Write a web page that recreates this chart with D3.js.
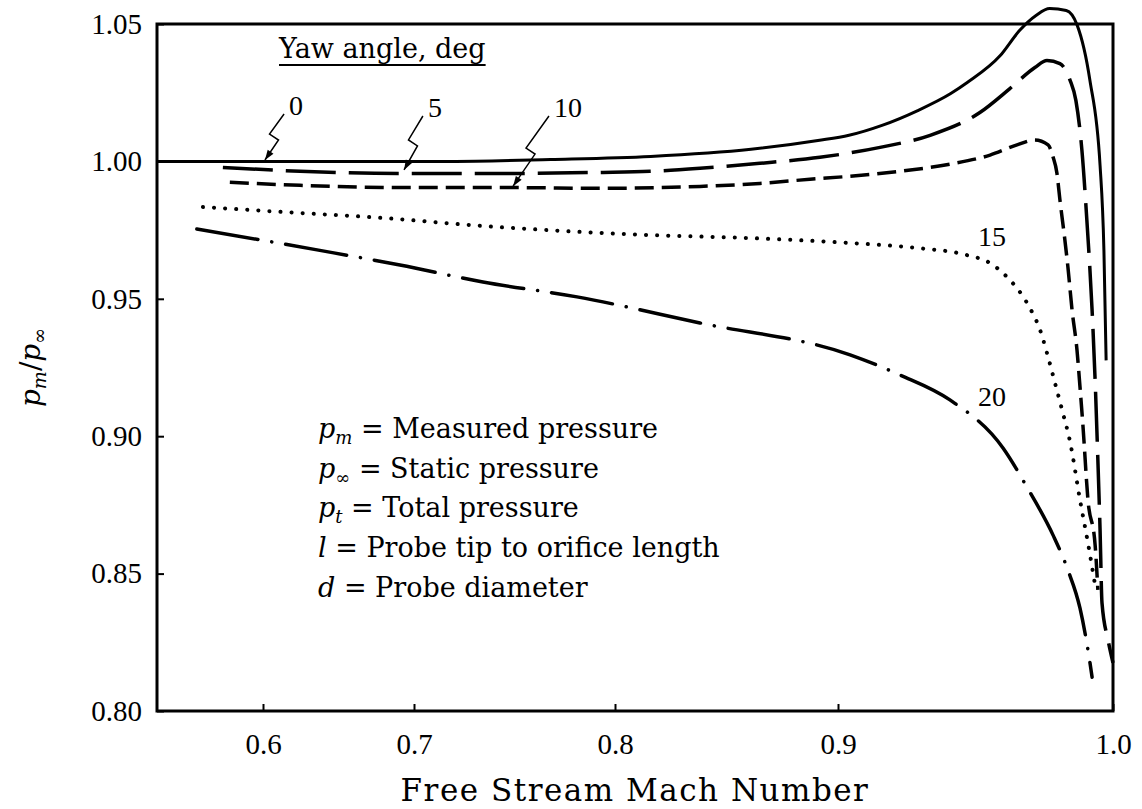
<!DOCTYPE html>
<html>
<head>
<meta charset="utf-8">
<script src="https://cdn.jsdelivr.net/npm/d3@7"></script>
<style>
body { margin: 0; background: #fff; }
text { fill: #000; }
.num { font-family: "Liberation Serif", serif; }
.words { font-family: "DejaVu Serif", serif; }
</style>
</head>
<body>
<div id="chart"></div>
<script>
// yaw angle curves, [Mach, pm/pinf]
var yaw0 = [[0.530, 1.0000], [0.6245, 1.0000], [0.718, 1.0000], [0.768, 1.0007], [0.816, 1.0018],
    [0.861, 1.0044], [0.891, 1.0076], [0.904, 1.0095], [0.916, 1.0131], [0.929, 1.0185],
    [0.941, 1.0247], [0.947, 1.0287], [0.959, 1.0385], [0.966, 1.0476], [0.972, 1.0531],
    [0.977, 1.0556], [0.983, 1.0549], [0.987, 1.0495], [0.9916, 1.0295], [0.9953, 0.9985],
    [0.9967, 0.9676], [0.9975, 0.9276]];
var yaw5 = [[0.5735, 0.9978], [0.6245, 0.9964], [0.6907, 0.9956], [0.7428, 0.9956], [0.7925, 0.9960],
    [0.8157, 0.9964], [0.8381, 0.9975], [0.865, 0.9993], [0.8919, 1.0015], [0.9153, 1.0051],
    [0.9335, 1.0095], [0.9516, 1.0178], [0.9625, 1.0265], [0.9716, 1.0342], [0.976, 1.0367],
    [0.9807, 1.0356], [0.9844, 1.0295], [0.9865, 1.0222], [0.9887, 1.0040], [0.9905, 0.9785],
    [0.9924, 0.9458], [0.9935, 0.9204], [0.9945, 0.8913], [0.9953, 0.8658], [0.996, 0.8393],
    [0.9982, 0.8258], [1.0, 0.8175]];
var yaw10 = [[0.5781, 0.9924], [0.6245, 0.9913], [0.6907, 0.9905], [0.7428, 0.9905], [0.7925, 0.9902],
    [0.8381, 0.9909], [0.865, 0.9920], [0.8874, 0.9935], [0.9044, 0.9946], [0.9225, 0.9964],
    [0.9407, 0.9990], [0.9553, 1.0023], [0.9651, 1.0060], [0.9716, 1.0078], [0.9764, 1.0060],
    [0.9782, 1.0016], [0.9796, 0.9958], [0.9807, 0.9860], [0.9825, 0.9714], [0.9836, 0.9616],
    [0.9851, 0.9460], [0.9869, 0.9314], [0.988, 0.9179], [0.9891, 0.9034], [0.9909, 0.8768],
    [0.9935, 0.8604], [0.9945, 0.8441]];
var yaw15 = [[0.5603, 0.9834], [0.6132, 0.9816], [0.6795, 0.9794], [0.7343, 0.9765], [0.7841, 0.9743],
    [0.8157, 0.9732], [0.8605, 0.9721], [0.9044, 0.9703], [0.9287, 0.9685], [0.9469, 0.9659],
    [0.9553, 0.9630], [0.9615, 0.9579], [0.9669, 0.9514], [0.9698, 0.9466], [0.9735, 0.9386],
    [0.9764, 0.9288], [0.9789, 0.9194], [0.9815, 0.9095], [0.9844, 0.8979], [0.988, 0.8768],
    [0.9909, 0.8611], [0.9935, 0.8458]];
var yaw20 = [[0.5563, 0.9754], [0.6358, 0.9678], [0.6907, 0.9623], [0.7343, 0.9561], [0.7811, 0.9507],
    [0.8381, 0.9412], [0.9044, 0.9296], [0.9225, 0.9223], [0.9407, 0.9132], [0.96, 0.8957],
    [0.9687, 0.8815], [0.9782, 0.8640], [0.9836, 0.8513], [0.988, 0.8374], [0.9909, 0.8222],
    [0.9924, 0.8123]];

var xTicks = [0.6, 0.7, 0.8, 0.9, 1.0];
var yTicks = [0.80, 0.85, 0.90, 0.95, 1.00, 1.05];

// curve labels: "0","5","10" with leaders, "15","20" plain
var leaderNames = ["0", "5", "10"];
var leaderText = [[0.6219, 1.0205], [0.7104, 1.0198], [0.7766, 1.0198]];
var leaderTip = [[0.6013, 1.0005], [0.6934, 0.9969], [0.7493, 0.9910]];
var plainNames = ["15", "20"];
var plainText = [[0.956, 0.9727], [0.956, 0.9146]];

var legendVars = [["p", "m"], ["p", "\u221E"], ["p", "t"], ["l", ""], ["d", ""]];
var legendDesc = ["Measured pressure", "Static pressure", "Total pressure",
    "Probe tip to orifice length", "Probe diameter"];

var width = 1142,
    height = 809;

var svg = d3.select("#chart").append("svg")
    .attr("width", width)
    .attr("height", height);

// x axis is stretched towards M = 1
var x = d3.scaleLinear()
    .domain([0.53, 0.6, 0.7, 0.8, 0.9, 1.0])
    .range([157, 263, 414, 615, 838, 1113]);
var y = d3.scaleLinear()
    .domain([0.80, 1.05])
    .range([711, 24]);

var xAxis = svg.append("g")
    .attr("transform", "translate(0," + y(0.80) + ")")
    .call(d3.axisBottom(x).tickValues(xTicks).tickSizeInner(-7).tickSizeOuter(0)
        .tickPadding(22).tickFormat(d3.format(".1f")));
var yAxis = svg.append("g")
    .attr("transform", "translate(" + x(0.53) + ",0)")
    .call(d3.axisLeft(y).tickValues(yTicks).tickSizeInner(-7).tickSizeOuter(0)
        .tickPadding(15).tickFormat(d3.format(".2f")));
[xAxis, yAxis].forEach(function (g) {
    g.attr("font-family", null).attr("font-size", null);
    g.select(".domain").remove();
    g.selectAll(".tick line").attr("stroke", "#000").attr("stroke-width", 2);
    g.selectAll(".tick text").attr("class", "num").attr("font-size", "29px");
});

svg.append("rect")
    .attr("x", x(0.53))
    .attr("y", y(1.05))
    .attr("width", x(1.0) - x(0.53))
    .attr("height", y(0.80) - y(1.05))
    .attr("fill", "none")
    .attr("stroke", "#000")
    .attr("stroke-width", 3);

var line = d3.line()
    .x(function (d) { return x(d[0]); })
    .y(function (d) { return y(d[1]); })
    .curve(d3.curveMonotoneX);

var series = [
    {data: yaw0, dash: null, cap: "butt", w: 3},
    {data: yaw5, dash: "50,13", cap: "butt", w: 3.5},
    {data: yaw10, dash: "19,8", cap: "butt", w: 3.5},
    {data: yaw15, dash: "0.1,11", cap: "round", w: 4},
    {data: yaw20, dash: "62,14,0.1,14", cap: "round", w: 3.5}
];
svg.selectAll("path.curve")
    .data(series)
    .enter().append("path")
    .attr("class", "curve")
    .attr("d", function (d) { return line(d.data); })
    .attr("fill", "none")
    .attr("stroke", "#000")
    .attr("stroke-width", function (d) { return d.w; })
    .attr("stroke-linecap", function (d) { return d.cap; })
    .attr("stroke-dasharray", function (d) { return d.dash; });

// header
var head = svg.append("text")
    .attr("class", "words")
    .attr("x", 279)
    .attr("y", 58)
    .attr("font-size", "27px")
    .text("Yaw angle, deg");
var hw = head.node().getComputedTextLength();
svg.append("line")
    .attr("x1", 279).attr("x2", 279 + hw)
    .attr("y1", 65).attr("y2", 65)
    .attr("stroke", "#000").attr("stroke-width", 2);

// labels with squiggly leaders
leaderNames.forEach(function (name, i) {
    var lx = x(leaderText[i][0]), ly = y(leaderText[i][1]);
    var t = svg.append("text")
        .attr("class", "num")
        .attr("x", lx).attr("y", ly)
        .attr("dy", "0.35em")
        .attr("text-anchor", "middle")
        .attr("font-size", "28px")
        .text(name);
    var tw = t.node().getComputedTextLength();
    var sx = lx - tw / 2 - 5, sy = ly + 9;
    var tx = x(leaderTip[i][0]), ty = y(leaderTip[i][1]);
    var mx = (sx + tx) / 2, my = (sy + ty) / 2;
    var ax = mx + 4, ay = my + 3;
    svg.append("path")
        .attr("d", "M" + sx + "," + sy + "L" + (mx - 5) + "," + (my - 3) +
            "L" + ax + "," + ay + "L" + tx + "," + ty)
        .attr("fill", "none")
        .attr("stroke", "#000")
        .attr("stroke-width", 1.5);
    var ang = Math.atan2(ty - ay, tx - ax);
    var len = 10, hwid = 3.5;
    var bx = tx - len * Math.cos(ang), by = ty - len * Math.sin(ang);
    svg.append("path")
        .attr("d", "M" + tx + "," + ty +
            "L" + (bx - hwid * Math.sin(ang)) + "," + (by + hwid * Math.cos(ang)) +
            "L" + (bx + hwid * Math.sin(ang)) + "," + (by - hwid * Math.cos(ang)) + "Z")
        .attr("fill", "#000");
});

plainNames.forEach(function (name, i) {
    svg.append("text")
        .attr("class", "num")
        .attr("x", x(plainText[i][0])).attr("y", y(plainText[i][1]))
        .attr("dy", "0.35em")
        .attr("text-anchor", "middle")
        .attr("font-size", "28px")
        .text(name);
});

// legend of symbols
legendVars.forEach(function (v, i) {
    var t = svg.append("text")
        .attr("class", "words")
        .attr("x", 318)
        .attr("y", 438 + i * 39.7)
        .attr("font-size", "27px");
    t.append("tspan").attr("font-style", "italic").text(v[0]);
    if (v[1]) {
        t.append("tspan")
            .attr("font-size", "18px")
            .attr("font-style", v[1] === "\u221E" ? "normal" : "italic")
            .attr("dy", 6)
            .text(v[1]);
        t.append("tspan").attr("dy", -6).text(" = " + legendDesc[i]);
    } else {
        t.append("tspan").text(" = " + legendDesc[i]);
    }
});

// axis titles
svg.append("text")
    .attr("class", "words")
    .attr("x", (x(0.53) + x(1.0)) / 2)
    .attr("y", 801)
    .attr("text-anchor", "middle")
    .attr("font-size", "31px")
    .attr("letter-spacing", "1.5px")
    .text("Free Stream Mach Number");

var yl = svg.append("text")
    .attr("class", "words")
    .attr("transform", "translate(40," + ((y(0.80) + y(1.05)) / 2) + ") rotate(-90)")
    .attr("text-anchor", "middle")
    .attr("font-size", "28px");
yl.append("tspan").attr("font-style", "italic").text("p");
yl.append("tspan").attr("font-style", "italic").attr("font-size", "19px").attr("dy", 6).text("m");
yl.append("tspan").attr("dy", -6).text("/");
yl.append("tspan").attr("font-style", "italic").text("p");
yl.append("tspan").attr("font-size", "19px").attr("dy", 6).text("\u221E");
</script>
</body>
</html>
